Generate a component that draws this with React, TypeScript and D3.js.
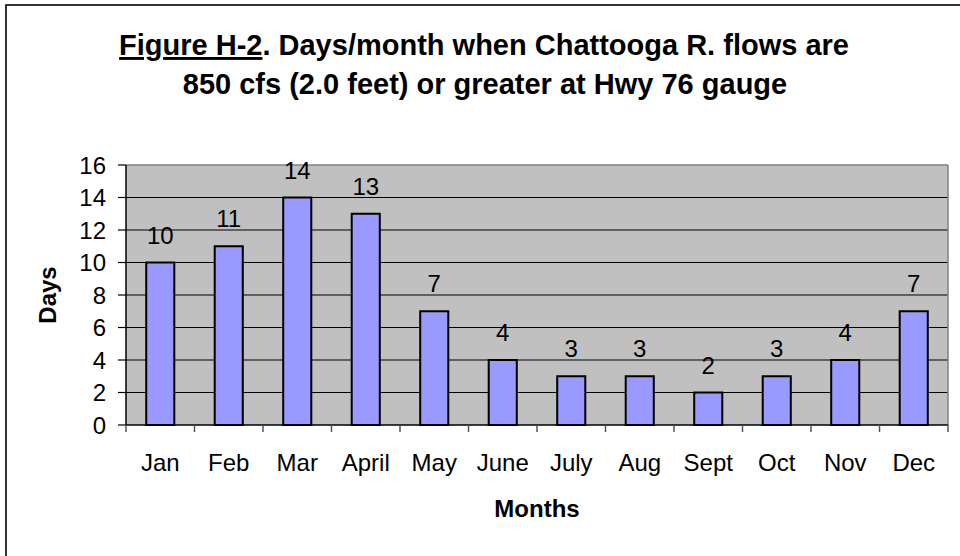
import React from "react";
import * as d3 from "d3";

const months = ["Jan", "Feb", "Mar", "April", "May", "June", "July", "Aug", "Sept", "Oct", "Nov", "Dec"];
const days = [10, 11, 14, 13, 7, 4, 3, 3, 2, 3, 4, 7];
const yTicks = [0, 2, 4, 6, 8, 10, 12, 14, 16];
const titleUnderlined = "Figure H-2";
const titleRest1 = ". Days/month when Chattooga R. flows are";
const title2 = "850 cfs (2.0 feet) or greater at Hwy 76 gauge";
const xTitle = "Months";
const yTitle = "Days";

const W = 960;
const H = 556;
const plot = { left: 126, right: 948, top: 165, bottom: 425 };
const FONT = "'Liberation Sans', Arial, sans-serif";

export default function App() {
  const x = d3.scaleBand<string>().domain(months).range([plot.left, plot.right]).padding(0);
  const y = d3.scaleLinear().domain([0, 16]).range([plot.bottom, plot.top]);
  const step = x.step();
  const barW = step * 0.41;
  const boundaries = d3.range(months.length + 1).map((i) => plot.left + i * step);

  return (
    <svg width={W} height={H} style={{ position: "absolute", left: 0, top: 0, background: "#fff" }} fontFamily={FONT}>
      <rect x={6} y={5} width={W + 20} height={H + 20} fill="#fff" stroke="#000" strokeWidth={1.6} />
      {/* title */}
      <text x={484} y={55} textAnchor="middle" fontSize={29} fontWeight="bold" fill="#000">
        <tspan textDecoration="underline" style={{ textDecoration: "underline" }}>{titleUnderlined}</tspan>
        <tspan>{titleRest1}</tspan>
      </text>
      <text x={485} y={94} textAnchor="middle" fontSize={29} fontWeight="bold" fill="#000">
        {title2}
      </text>
      {/* plot area */}
      <rect x={plot.left} y={plot.top} width={plot.right - plot.left} height={plot.bottom - plot.top} fill="#C0C0C0" />
      {yTicks.filter((t) => t > 0 && t < 16).map((t) => (
        <line key={"g" + t} x1={plot.left} x2={plot.right} y1={y(t)} y2={y(t)} stroke="#000" strokeWidth={1} />
      ))}
      <line x1={plot.left} x2={plot.right} y1={plot.top} y2={plot.top} stroke="#808080" strokeWidth={1.5} />
      <line x1={plot.right} x2={plot.right} y1={plot.top} y2={plot.bottom} stroke="#808080" strokeWidth={1.5} />
      {/* bars */}
      {months.map((m, i) => {
        const cx = (x(m) as number) + step / 2;
        return (
          <g key={m}>
            <rect x={cx - barW / 2} y={y(days[i])} width={barW} height={plot.bottom - y(days[i])} fill="#9999FF" stroke="#000" strokeWidth={2} />
            <text x={cx} y={y(days[i]) - 19} textAnchor="middle" fontSize={24} fill="#000">{days[i]}</text>
            <text x={cx} y={471} textAnchor="middle" fontSize={24} fill="#000">{m}</text>
          </g>
        );
      })}
      {/* axes */}
      <line x1={plot.left} x2={plot.left} y1={plot.top} y2={plot.bottom} stroke="#000" strokeWidth={1.5} />
      <line x1={plot.left} x2={plot.right} y1={plot.bottom} y2={plot.bottom} stroke="#000" strokeWidth={1.5} />
      {yTicks.map((t) => (
        <g key={"t" + t}>
          <line x1={118} x2={plot.left} y1={y(t)} y2={y(t)} stroke="#000" strokeWidth={1.2} />
          <text x={106} y={y(t) + 8.5} textAnchor="end" fontSize={24} fill="#000">{t}</text>
        </g>
      ))}
      {boundaries.map((bx, i) => (
        <line key={"b" + i} x1={bx} x2={bx} y1={plot.bottom} y2={plot.bottom + 7} stroke="#555" strokeWidth={1.5} />
      ))}
      <text x={537} y={517} textAnchor="middle" fontSize={24} fontWeight="bold" fill="#000">{xTitle}</text>
      <text transform={`translate(56,295) rotate(-90)`} textAnchor="middle" fontSize={24} fontWeight="bold" fill="#000">{yTitle}</text>
    </svg>
  );
}
